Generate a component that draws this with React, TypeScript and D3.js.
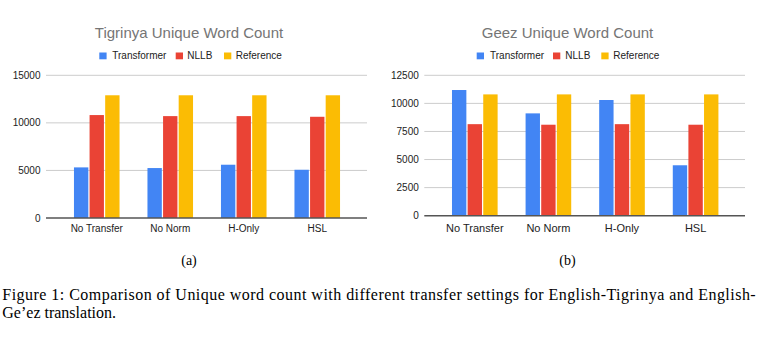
import React from 'react'
import * as d3 from 'd3'

const categories = ['No Transfer', 'No Norm', 'H-Only', 'HSL']
const seriesNames = ['Transformer', 'NLLB', 'Reference']
const seriesColors = ['#4285F4', '#EA4335', '#FBBC04']

const tigrinyaTransformer = [5320, 5250, 5600, 5070]
const tigrinyaNllb = [10820, 10710, 10710, 10640]
const tigrinyaReference = [12900, 12900, 12900, 12900]
const tigrinyaTicks = [0, 5000, 10000, 15000]

const geezTransformer = [11190, 9110, 10300, 4490]
const geezNllb = [8150, 8100, 8150, 8100]
const geezReference = [10800, 10800, 10800, 10800]
const geezTicks = [0, 2500, 5000, 7500, 10000, 12500]

const captionLine1 =
  'Figure 1: Comparison of Unique word count with different transfer settings for English-Tigrinya and English-'
const captionLine2 = 'Ge\u2019ez translation.'

const sans = 'Arial, "Liberation Sans", Helvetica, sans-serif'
const serif = '"Times New Roman", "Liberation Serif", serif'

type PanelProps = {
  title: string
  series: number[][]
  ticks: number[]
  left: number
  right: number
  top: number
  bottom: number
  bandRange: [number, number]
  titleX: number
  legendSquares: number[]
  legendTexts: number[]
  xLabelSize: number
  sub: string
}

const Panel = (p: PanelProps) => {
  const y = d3
    .scaleLinear()
    .domain([0, d3.max(p.ticks) as number])
    .range([p.bottom, p.top])

  const x0 = d3
    .scaleBand()
    .domain(categories)
    .range(p.bandRange)
    .paddingInner(0.38)
    .paddingOuter(0.19)

  const x1 = d3
    .scaleBand()
    .domain(seriesNames)
    .range([0, x0.bandwidth()])
    .paddingInner(0.08)

  return (
    <g>
      <text x={p.titleX} y={37.7} textAnchor="middle" fontSize={15} fill="#757575" fontFamily={sans}>
        {p.title}
      </text>
      {seriesNames.map((s, i) => (
        <g key={s}>
          <rect x={p.legendSquares[i]} y={52.5} width={7.3} height={6.8} fill={seriesColors[i]} />
          <text x={p.legendTexts[i]} y={59} fontSize={10} fill="#222" fontFamily={sans}>
            {s}
          </text>
        </g>
      ))}
      {p.ticks.map((t) => (
        <g key={t}>
          {t > 0 && (
            <line x1={p.left} x2={p.right} y1={y(t)} y2={y(t)} stroke="#cccccc" strokeWidth={1} />
          )}
          <text
            x={p.left - 5.5}
            y={y(t)}
            dy="0.35em"
            textAnchor="end"
            fontSize={10}
            fill="#222"
            fontFamily={sans}
          >
            {t}
          </text>
        </g>
      ))}
      {categories.map((c, ci) => (
        <g key={c} transform={`translate(${x0(c)},0)`}>
          {seriesNames.map((s, si) => (
            <rect
              key={s}
              x={x1(s)}
              y={y(p.series[si][ci])}
              width={x1.bandwidth()}
              height={y(0) - y(p.series[si][ci])}
              fill={seriesColors[si]}
            />
          ))}
          <text
            x={x0.bandwidth() / 2}
            y={232.3}
            textAnchor="middle"
            fontSize={p.xLabelSize}
            fill="#222"
            fontFamily={sans}
          >
            {c}
          </text>
        </g>
      ))}
      <line x1={p.left} x2={p.right} y1={y(0)} y2={y(0)} stroke="#555" strokeWidth={1.4} />
      <text x={p.titleX} y={265} textAnchor="middle" fontSize={14} fill="#000" fontFamily={serif}>
        {p.sub}
      </text>
    </g>
  )
}

const App = () => {
  return (
    <svg
      width={765}
      height={337}
      style={{ position: 'absolute', left: 0, top: 0, background: '#fff' }}
    >
      <Panel
        title="Tigrinya Unique Word Count"
        series={[tigrinyaTransformer, tigrinyaNllb, tigrinyaReference]}
        ticks={tigrinyaTicks}
        left={46}
        right={367}
        top={75.3}
        bottom={218}
        bandRange={[60, 354]}
        titleX={189}
        legendSquares={[99.3, 175.7, 224]}
        legendTexts={[112.3, 187.3, 235.7]}
        xLabelSize={10}
        sub="(a)"
      />
      <Panel
        title="Geez Unique Word Count"
        series={[geezTransformer, geezNllb, geezReference]}
        ticks={geezTicks}
        left={424.3}
        right={745}
        top={75.3}
        bottom={215.7}
        bandRange={[438, 732.4]}
        titleX={567.5}
        legendSquares={[476.7, 553, 601.3]}
        legendTexts={[490, 565.3, 613.3]}
        xLabelSize={11}
        sub="(b)"
      />
      <text
        x={2.3}
        y={300}
        fontSize={16}
        fill="#000"
        fontFamily={serif}
        textLength={753.4}
        lengthAdjust="spacing"
      >
        {captionLine1}
      </text>
      <text x={2.3} y={317.7} fontSize={16} fill="#000" fontFamily={serif}>
        {captionLine2}
      </text>
    </svg>
  )
}

export default App
